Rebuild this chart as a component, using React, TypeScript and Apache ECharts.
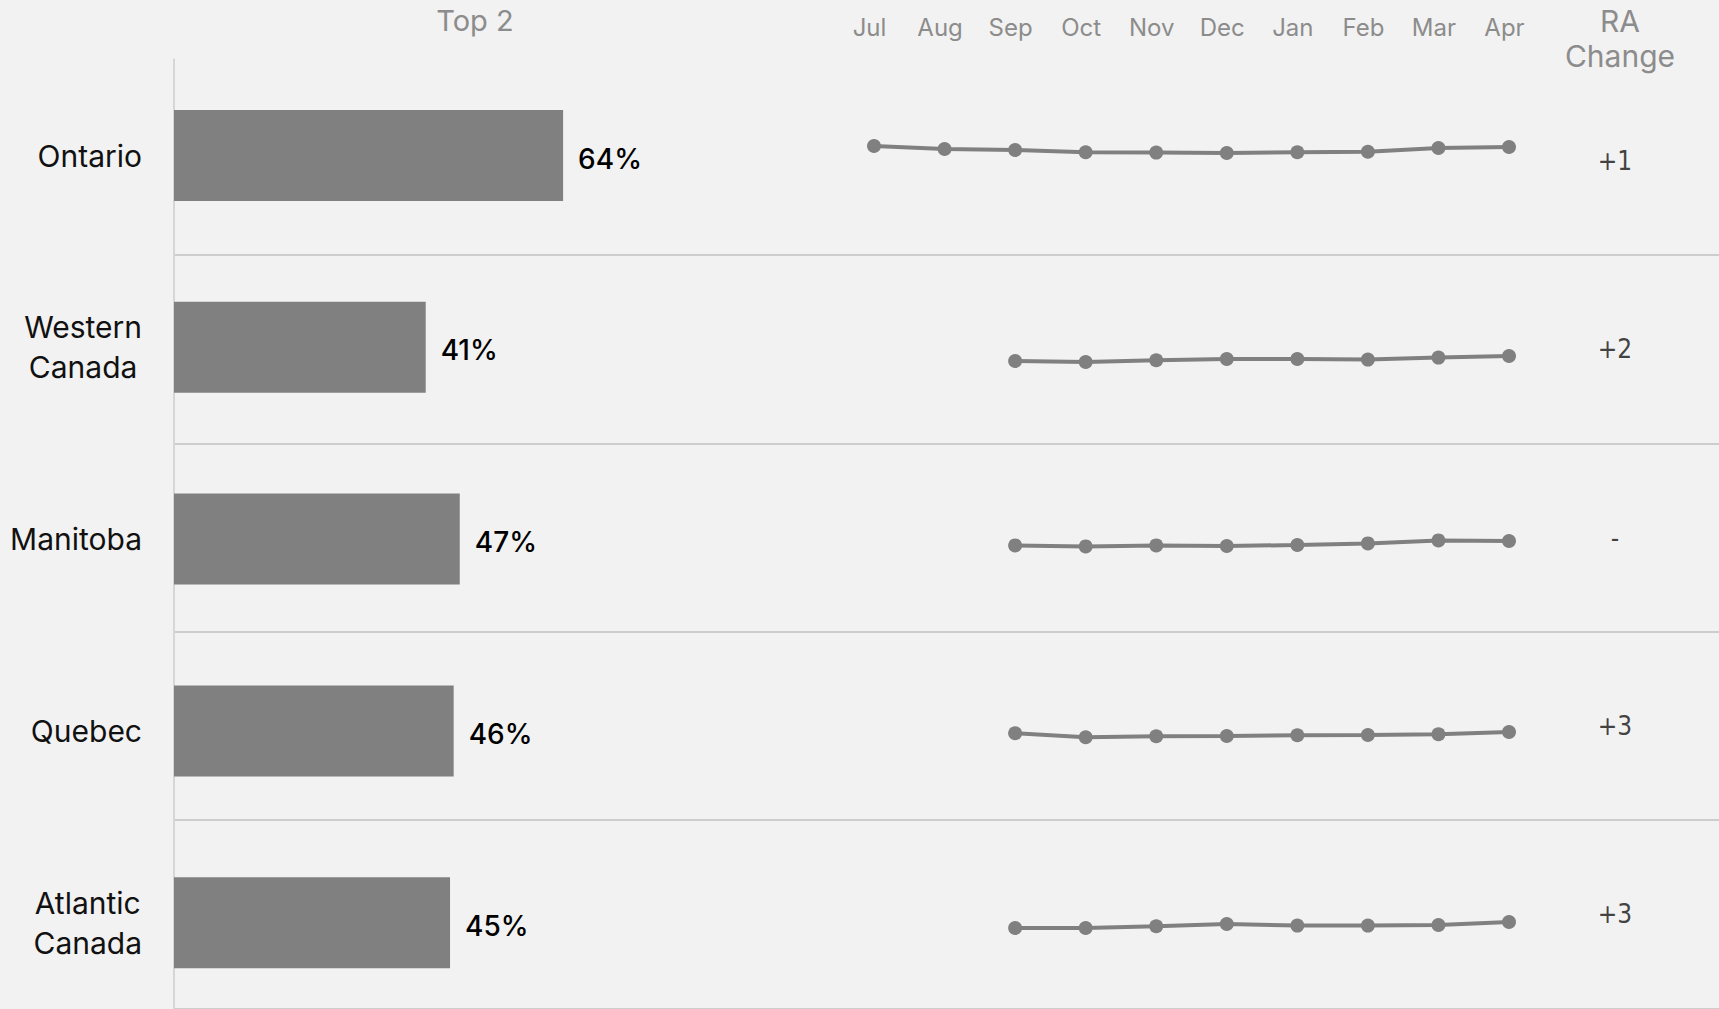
import React, { useEffect, useRef } from "react";
import * as echarts from "echarts";

const regions = ["Ontario", "Western\nCanada", "Manitoba", "Quebec", "Atlantic\nCanada"];
const top2 = [64, 41.4, 47, 46, 45.4];
const months = ["Jul", "Aug", "Sep", "Oct", "Nov", "Dec", "Jan", "Feb", "Mar", "Apr"];
const ontarioTrend = [64.5, 63, 62.5, 61.4, 61.2, 61, 61.4, 61.6, 63.5, 64];
const westernTrend = [null, null, 38.5, 38, 38.9, 39.5, 39.5, 39.2, 40.2, 41];
const manitobaTrend = [null, null, 44.8, 44.3, 44.8, 44.5, 45, 45.8, 47.3, 47];
const quebecTrend = [null, null, 45.4, 43.4, 43.9, 44, 44.4, 44.5, 44.9, 46];
const atlanticTrend = [null, null, 42, 42, 42.9, 44, 43.2, 43.2, 43.5, 45];
const raChange = ["+1", "+2", "-", "+3", "+3"];

const trends = [ontarioTrend, westernTrend, manitobaTrend, quebecTrend, atlanticTrend];
// layout for sparkline panels
const sparkTops = [97, 306, 491, 682, 872];
const sparkMin = [39, 16, 22, 21, 20];
const sparkSpan = 50;

const GRAY = "#808080";
const LABEL_GRAY = "#8c8c8c";
const FONT = "Inter, Roboto, sans-serif";

export default function App() {
  const ref = useRef<HTMLDivElement>(null);
  useEffect(() => {
    if (!ref.current) return;
    const chart = echarts.init(ref.current, null, { renderer: "svg" });

    const grids: any[] = [
      { left: 174, top: 59.6, width: 608, height: 959, outerBoundsMode: "none" },
    ];
    sparkTops.forEach((t) =>
      grids.push({ left: 874, width: 635, top: t, height: 100, outerBoundsMode: "none" })
    );
    grids.push({ left: 174, right: 0, top: 66.6, height: 942, outerBoundsMode: "none" }); // separators
    grids.push({ left: 1580, width: 70, top: 66.6, height: 942, outerBoundsMode: "none" }); // RA change

    const xAxes: any[] = [
      {
        gridIndex: 0,
        type: "value",
        min: 0,
        max: 100,
        position: "top",
        axisLine: { show: false },
        axisTick: { show: false },
        axisLabel: { show: false },
        splitLine: { show: false },
        name: "Top 2",
        nameLocation: "middle",
        nameGap: 25,
        nameTextStyle: { fontSize: 29, color: LABEL_GRAY, fontFamily: FONT, padding: [0, 6, 0, 0] },
      },
    ];
    const yAxes: any[] = [
      {
        gridIndex: 0,
        type: "category",
        inverse: true,
        data: regions,
        axisTick: { show: false },
        axisLine: { show: true, lineStyle: { color: "#d6d6d6", width: 2 } },
        axisLabel: {
          margin: 32,
          align: "right",
          formatter: (v: string) => `{c|${v}}`,
          rich: {
            c: { align: "center", fontSize: 30, lineHeight: 40, color: "#111", fontFamily: FONT },
          },
        },
      },
    ];

    trends.forEach((_, i) => {
      xAxes.push({
        gridIndex: i + 1,
        type: "category",
        data: months,
        boundaryGap: false,
        position: "top",
        axisLine: { show: false },
        axisTick: { show: false },
        splitLine: { show: false },
        axisLabel: {
          show: i === 0,
          margin: 58,
          fontSize: 24,
          color: LABEL_GRAY,
          fontFamily: FONT,
          interval: 0,
          padding: [0, 9, 0, 0],
        },
      });
      yAxes.push({
        gridIndex: i + 1,
        type: "value",
        min: sparkMin[i],
        max: sparkMin[i] + sparkSpan,
        show: false,
      });
    });

    // separator grid (index 6)
    xAxes.push({ gridIndex: 6, type: "value", min: 0, max: 1, show: false });
    yAxes.push({
      gridIndex: 6,
      type: "category",
      inverse: true,
      data: regions,
      axisLine: { show: false },
      axisTick: { show: false },
      axisLabel: { show: false },
      splitLine: {
        show: true,
        interval: 0,
        showMinLine: false,
        lineStyle: { color: "#cdcdcd", width: 2 },
      },
    });
    // RA change grid (index 7)
    xAxes.push({ gridIndex: 7, type: "value", min: -1, max: 1, show: false });
    yAxes.push({
      gridIndex: 7,
      type: "category",
      inverse: true,
      data: regions,
      show: false,
    });

    const series: any[] = [
      {
        type: "bar",
        xAxisIndex: 0,
        yAxisIndex: 0,
        data: top2,
        barWidth: 91,
        itemStyle: { color: GRAY },
        label: {
          show: true,
          position: "right",
          distance: 15,
          offset: [0, 3],
          formatter: (p: any) => `${Math.round(p.value)}%`,
          fontSize: 28,
          fontWeight: 500,
          color: "#000",
          fontFamily: FONT,
        },
      },
    ];
    trends.forEach((t, i) => {
      series.push({
        type: "line",
        xAxisIndex: i + 1,
        yAxisIndex: i + 1,
        data: t,
        symbol: "circle",
        symbolSize: 14,
        showSymbol: true,
        lineStyle: { color: GRAY, width: 4 },
        itemStyle: { color: GRAY },
        connectNulls: false,
      });
    });
    series.push({
      type: "scatter",
      xAxisIndex: 7,
      yAxisIndex: 7,
      data: raChange.map((_, i) => [0, regions[i]]),
      symbolSize: 1,
      itemStyle: { color: "rgba(0,0,0,0)" },
      label: {
        show: true,
        position: "inside",
        formatter: (p: any) => raChange[p.dataIndex],
        fontSize: 26,
        color: "#111",
        fontFamily: "'DejaVu Sans Condensed', 'DejaVu Sans', sans-serif",
      },
    });

    chart.setOption({
      animation: false,
      backgroundColor: "#f2f2f2",
      grid: grids,
      xAxis: xAxes,
      yAxis: yAxes,
      series,
      graphic: [
        {
          type: "text",
          x: 1620,
          y: 38,
          style: {
            text: "RA\nChange",
            align: "center",
            verticalAlign: "middle",
            fontSize: 30,
            lineHeight: 35,
            fill: LABEL_GRAY,
            fontFamily: FONT,
          },
        },
      ],
    });
    return () => chart.dispose();
  }, []);
  return (
    <div
      ref={ref}
      style={{ position: "absolute", left: 0, top: 0, width: 1719, height: 1009 }}
    />
  );
}
